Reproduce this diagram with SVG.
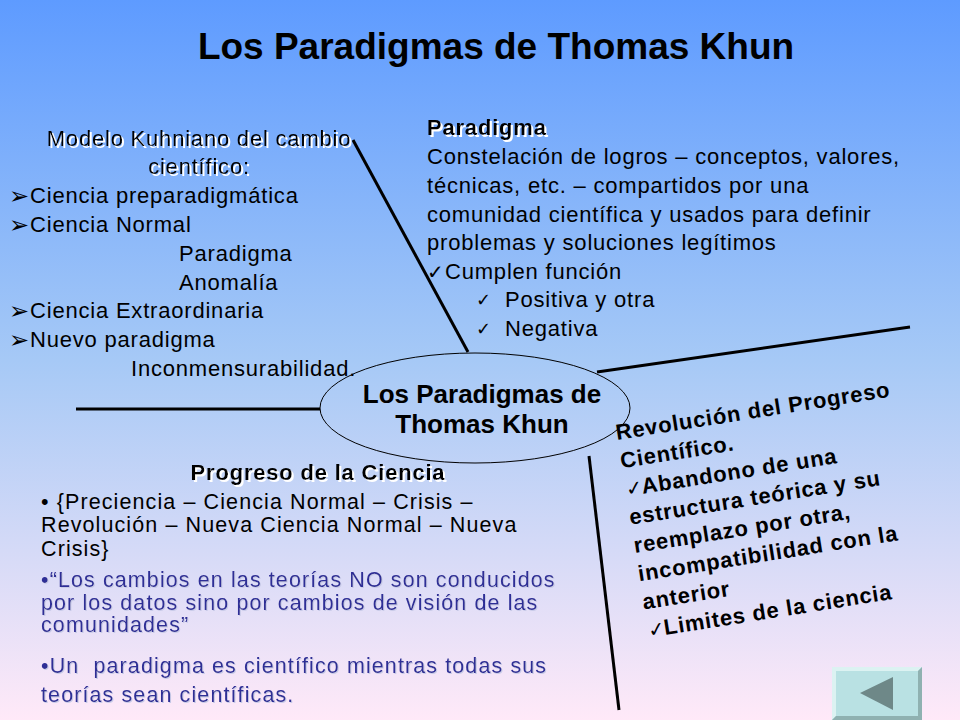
<svg xmlns="http://www.w3.org/2000/svg" width="960" height="720" viewBox="0 0 960 720">
<defs>
<linearGradient id="bg" x1="0" y1="0" x2="0" y2="1">
<stop offset="0" stop-color="#5e9bff"/>
<stop offset="0.5" stop-color="#a6c9f6"/>
<stop offset="1" stop-color="#ffe9f8"/>
</linearGradient>
<filter id="sw" x="-5%" y="-30%" width="110%" height="160%">
<feOffset in="SourceAlpha" dx="1.5" dy="1.5" result="o"/>
<feFlood flood-color="#ffffff"/>
<feComposite in2="o" operator="in" result="s"/>
<feMerge><feMergeNode in="s"/><feMergeNode in="SourceGraphic"/></feMerge>
</filter>
<filter id="sb" x="-5%" y="-30%" width="110%" height="160%">
<feOffset in="SourceAlpha" dx="1" dy="1" result="o"/>
<feFlood flood-color="#c8cae8"/>
<feComposite in2="o" operator="in" result="s"/>
<feMerge><feMergeNode in="s"/><feMergeNode in="SourceGraphic"/></feMerge>
</filter>
</defs>
<style>
.t{font-family:"Liberation Sans",Arial,sans-serif;fill:#000}
.r22{font-size:22px;letter-spacing:0.8px}
.b22{font-size:22px;font-weight:bold;letter-spacing:0.8px}
.bot{font-size:21.5px;letter-spacing:1.1px}
.blue{fill:#2e2e96}
.sym{font-family:"DejaVu Sans",sans-serif;letter-spacing:0}
.arr{font-family:"DejaVu Sans",sans-serif;font-size:24px}
.ln{stroke:#000;stroke-width:3;fill:none}
</style>
<rect x="0" y="0" width="960" height="720" fill="url(#bg)"/>

<g id="title">
<text class="t" x="496" y="59" font-size="37" font-weight="bold" text-anchor="middle">Los Paradigmas de Thomas Khun</text>
</g>

<g id="connectors">
<line class="ln" x1="353" y1="140" x2="468" y2="352"/>
<line class="ln" x1="76" y1="409" x2="320" y2="409"/>
<line class="ln" x1="597" y1="372" x2="910" y2="327"/>
<line class="ln" x1="589" y1="456" x2="619" y2="710"/>
</g>

<g id="center">
<ellipse cx="475" cy="408" rx="155" ry="55" fill="none" stroke="#000" stroke-width="1"/>
<text class="t" x="482" y="403" font-size="26" font-weight="bold" text-anchor="middle">Los Paradigmas de</text>
<text class="t" x="482" y="433" font-size="26" font-weight="bold" text-anchor="middle">Thomas Khun</text>
</g>

<g id="modelo">
<g filter="url(#sw)">
<text class="t r22" x="199" y="146" text-anchor="middle">Modelo Kuhniano del cambio</text>
<text class="t r22" x="199" y="174" text-anchor="middle">científico:</text>
</g>
<text class="t arr" x="9" y="204">➢</text>
<text class="t r22" x="30" y="203">Ciencia preparadigmática</text>
<text class="t arr" x="9" y="233">➢</text>
<text class="t r22" x="30" y="232">Ciencia Normal</text>
<text class="t r22" x="179" y="261">Paradigma</text>
<text class="t r22" x="179" y="290">Anomalía</text>
<text class="t arr" x="9" y="319">➢</text>
<text class="t r22" x="30" y="318">Ciencia Extraordinaria</text>
<text class="t arr" x="9" y="348">➢</text>
<text class="t r22" x="30" y="347">Nuevo paradigma</text>
<text class="t r22" x="131" y="376">Inconmensurabilidad.</text>
</g>

<g id="paradigma">
<text class="t b22" x="427" y="135" filter="url(#sw)">Paradigma</text>
<text class="t r22" x="427" y="164">Constelación de logros – conceptos, valores,</text>
<text class="t r22" x="427" y="193">técnicas, etc. – compartidos por una</text>
<text class="t r22" x="427" y="222">comunidad científica y usados para definir</text>
<text class="t r22" x="427" y="250">problemas y soluciones legítimos</text>
<text class="t sym" x="427" y="279" font-size="20">✓</text>
<text class="t r22" x="445" y="279">Cumplen función</text>
<text class="t sym" x="476" y="306" font-size="18">✓</text>
<text class="t r22" x="505" y="307">Positiva y otra</text>
<text class="t sym" x="476" y="335" font-size="18">✓</text>
<text class="t r22" x="505" y="336">Negativa</text>
</g>

<g id="progreso">
<text class="t b22" x="318" y="480" text-anchor="middle" filter="url(#sw)">Progreso de la Ciencia</text>
<text class="t bot" x="41" y="509">• {Preciencia – Ciencia Normal – Crisis –</text>
<text class="t bot" x="41" y="532">Revolución – Nueva Ciencia Normal – Nueva</text>
<text class="t bot" x="41" y="556">Crisis}</text>
<g filter="url(#sb)">
<text class="t bot blue" x="41" y="587">•“Los cambios en las teorías NO son conducidos</text>
<text class="t bot blue" x="41" y="610">por los datos sino por cambios de visión de las</text>
<text class="t bot blue" x="41" y="632">comunidades”</text>
<text class="t bot blue" x="41" y="673">•Un &#160;paradigma es científico mientras todas sus</text>
<text class="t bot blue" x="41" y="702">teorías sean científicas.</text>
</g>
</g>

<g id="revolucion" transform="translate(617,440) rotate(-9)">
<text class="t b22" x="0" y="0">Revolución del Progreso</text>
<text class="t b22" x="0" y="28.6">Científico.</text>
<text class="t sym" x="1" y="57.2" font-size="20">✓</text>
<text class="t b22" x="17" y="57.2">Abandono de una</text>
<text class="t b22" x="0" y="85.8">estructura teórica y su</text>
<text class="t b22" x="0" y="114.4">reemplazo por otra,</text>
<text class="t b22" x="0" y="143">incompatibilidad con la</text>
<text class="t b22" x="0" y="171.6">anterior</text>
<text class="t sym" x="1" y="200.2" font-size="20">✓</text>
<text class="t b22" x="17" y="200.2">Limites de la ciencia</text>
</g>

<g id="nav-back">
<rect x="832" y="667" width="90" height="53" fill="#b9e1e3"/>
<polygon points="832,667 922,667 918,671 836,671 836,716 832,720" fill="#dcf2f2"/>
<polygon points="922,667 922,720 832,720 836,716 918,716 918,671" fill="#8fb1b1"/>
<polygon points="860,693 893,677 893,710" fill="#6e8888"/>
</g>
</svg>
